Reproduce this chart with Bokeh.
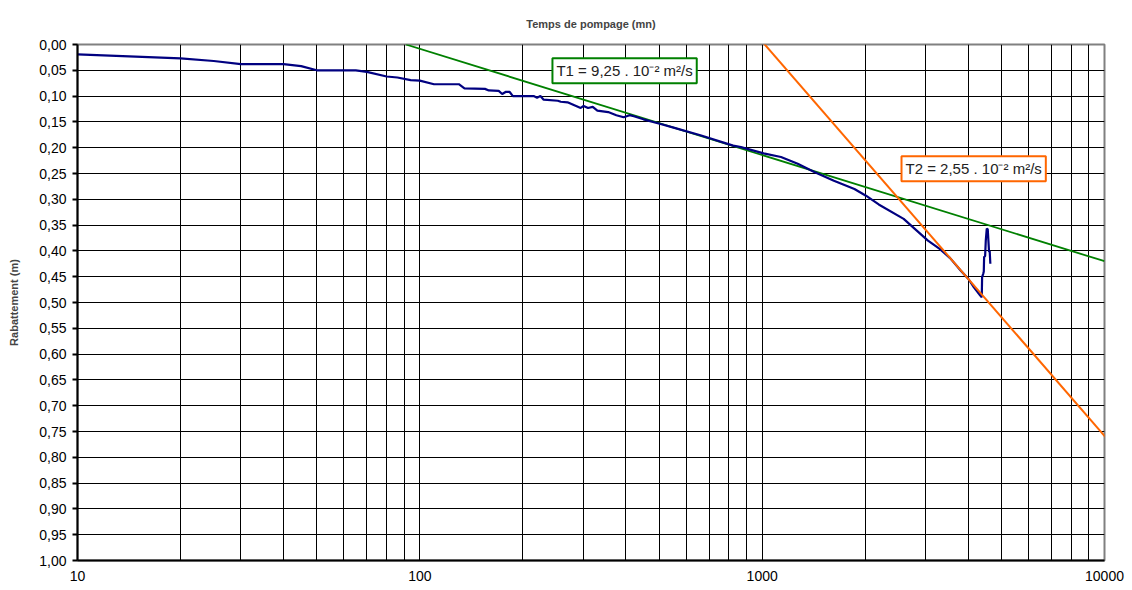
from bokeh.plotting import figure
from bokeh.models import Range1d, FixedTicker, CustomJSTickFormatter, Label, Arrow
from bokeh.embed import file_html
from bokeh.resources import INLINE

# ---- data ----
time_mn = [10, 20, 25, 30, 40, 45, 50, 65, 70, 80, 86, 94, 100, 110, 130, 135,
           155, 159, 170, 174, 178, 183, 187, 215, 220, 225, 230, 253, 258, 270,
           295, 301, 310, 320, 330, 355, 375, 394, 410, 422, 450, 505, 551, 660,
           823, 867, 1010, 1135, 1270, 1420, 1620, 1860, 2010, 2190, 2590, 3050,
           3300, 3540, 3800, 4000, 4150, 4330, 4380,
           4390, 4420, 4440, 4450, 4480, 4500, 4530, 4560, 4580, 4600, 4620, 4640]
rabattement = [0.019, 0.027, 0.032, 0.038, 0.038, 0.042, 0.050, 0.050, 0.053, 0.062,
               0.064, 0.069, 0.070, 0.077, 0.077, 0.085, 0.086, 0.089, 0.090, 0.096,
               0.092, 0.092, 0.100, 0.100, 0.103, 0.100, 0.107, 0.109, 0.111, 0.112,
               0.123, 0.119, 0.123, 0.121, 0.128, 0.131, 0.137, 0.141, 0.137, 0.139,
               0.145, 0.154, 0.161, 0.176, 0.196, 0.199, 0.211, 0.218, 0.231, 0.247,
               0.264, 0.280, 0.293, 0.310, 0.338, 0.380, 0.396, 0.414, 0.438, 0.454,
               0.470, 0.486, 0.490,
               0.451, 0.445, 0.440, 0.412, 0.410, 0.380, 0.357, 0.358, 0.380, 0.402,
               0.400, 0.425]

green_t = [91, 10000]
green_s = [0.0, 0.42]
orange_t = [938, 10900]
orange_s = [-0.027, 0.787]

label_texts = ["T1 = 9,25 . 10\u207b\u00b2 m\u00b2/s", "T2 = 2,55 . 10\u207b\u00b2 m\u00b2/s"]
label_t = [244, 2553]
label_s = [0.051, 0.241]
label_colors = ["#008000", "#FF6600"]

x_major = [10, 100, 1000, 10000]
x_minor = [m * d for d in [10, 100, 1000] for m in range(2, 10)]
y_ticks = [round(i * 0.05, 2) for i in range(21)]

FONT = "Liberation Sans"

p = figure(width=1132, height=590, x_axis_type="log",
           x_range=Range1d(10, 10000), y_range=Range1d(1.0, 0.0),
           output_backend="svg", toolbar_location=None,
           min_border_left=77, min_border_right=28,
           min_border_top=44, min_border_bottom=30,
           background_fill_color="white", border_fill_color="white")

p.outline_line_color = "#808080"
p.outline_line_width = 2

# title
p.title.text = "Temps de pompage (mn)"
p.title.align = "center"
p.title.text_font = FONT
p.title.text_font_size = "11px"
p.title.text_font_style = "bold"
p.title.standoff = 30

# grids
p.xgrid.grid_line_color = "black"
p.xgrid.grid_line_width = 1
p.xgrid.minor_grid_line_color = "black"
p.xgrid.minor_grid_line_width = 1
p.ygrid.grid_line_color = "black"
p.ygrid.grid_line_width = 1

# x axis
p.xaxis.ticker = FixedTicker(ticks=x_major, minor_ticks=x_minor)
p.xaxis.formatter = CustomJSTickFormatter(code="return String(Math.round(tick));")
p.xaxis.major_tick_out = 0
p.xaxis.major_tick_in = 0
p.xaxis.minor_tick_out = 0
p.xaxis.minor_tick_in = 0
p.xaxis.axis_line_color = "black"
p.xaxis.axis_line_width = 2
p.xaxis.major_label_text_font = FONT
p.xaxis.major_label_text_font_size = "14px"
p.xaxis.major_label_text_color = "black"
p.xaxis.major_label_standoff = 10

# y axis
p.yaxis.ticker = FixedTicker(ticks=y_ticks)
p.yaxis.formatter = CustomJSTickFormatter(code="return tick.toFixed(2).replace('.', ',');")
p.yaxis.major_tick_out = 5
p.yaxis.major_tick_in = 0
p.yaxis.minor_tick_out = 0
p.yaxis.minor_tick_in = 0
p.yaxis.major_tick_line_width = 2
p.yaxis.axis_line_color = "black"
p.yaxis.axis_line_width = 2
p.yaxis.major_label_text_font = FONT
p.yaxis.major_label_text_font_size = "14px"
p.yaxis.major_label_text_color = "black"
p.yaxis.major_label_standoff = 6
p.yaxis.axis_label = "Rabattement (m)"
p.yaxis.axis_label_text_font = FONT
p.yaxis.axis_label_text_font_size = "11px"
p.yaxis.axis_label_text_font_style = "bold"
p.yaxis.axis_label_standoff = 16

# lines
p.line(green_t, green_s, line_color="#008000", line_width=1.8)
p.line(time_mn, rabattement, line_color="#000080", line_width=2.2)
p.add_layout(Arrow(end=None, x_start=orange_t[0], y_start=orange_s[0],
                   x_end=orange_t[1], y_end=orange_s[1],
                   line_color="#FF6600", line_width=2))

for txt, tx, sy, col in zip(label_texts, label_t, label_s, label_colors):
    p.add_layout(Label(x=tx, y=sy, text=txt, text_font=FONT, text_font_size="15px",
                       text_baseline="middle", text_align="left", text_color="#222222",
                       border_line_color=col, border_line_width=2,
                       background_fill_color="white", padding=4))

open("out.html", "w").write(file_html(p, INLINE))
